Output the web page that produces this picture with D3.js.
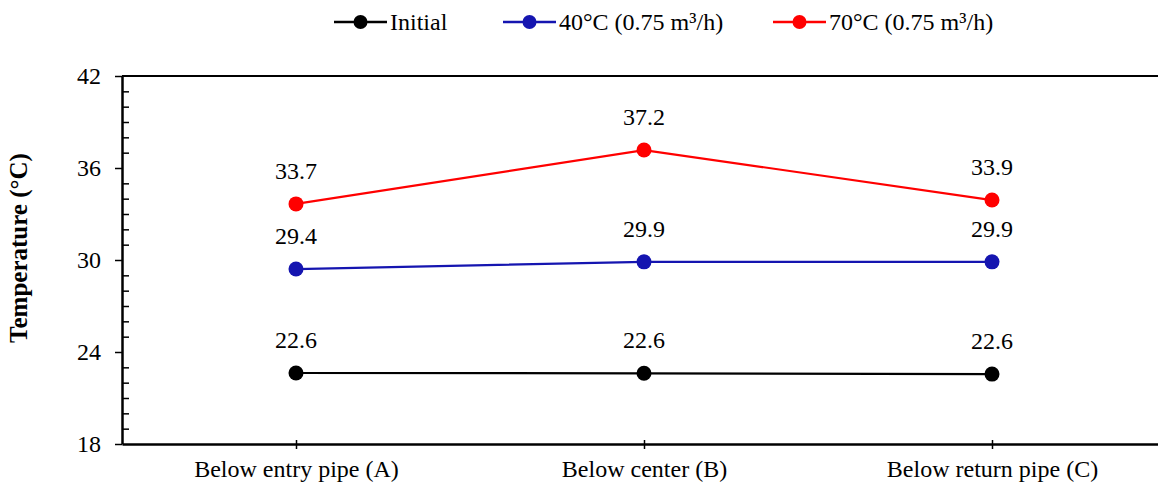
<!DOCTYPE html>
<html>
<head>
<meta charset="utf-8">
<script src="https://cdn.jsdelivr.net/npm/d3@7"></script>
<style>
  body { margin: 0; background: #fff; }
</style>
</head>
<body>
<div id="chart"></div>
<script>
// chart data
const categories = ["Below entry pipe (A)", "Below center (B)", "Below return pipe (C)"];
const seriesNames = ["Initial", "40\u00B0C (0.75 m\u00B3/h)", "70\u00B0C (0.75 m\u00B3/h)"];
const seriesColors = ["#000000", "#1515b0", "#ff0000"];
const initialValues = [22.63, 22.61, 22.56];
const warmValues = [29.41, 29.88, 29.88];
const hotValues = [33.66, 37.17, 33.91];
const yTicks = [18, 24, 30, 36, 42];

const FONT = "Liberation Serif, Times New Roman, Times, serif";

const series = [initialValues, warmValues, hotValues].map((vals, i) => ({
  name: seriesNames[i],
  color: seriesColors[i],
  values: vals.map((v, j) => ({ cat: categories[j], v: v }))
}));

const W = 1158, H = 488;
const margin = { top: 76, right: -8, bottom: 44, left: 122 };
const width = W - margin.left - margin.right;
const height = H - margin.top - margin.bottom;

const svg = d3.select("#chart").append("svg")
  .attr("width", W).attr("height", H)
  .attr("font-family", FONT);

const g = svg.append("g")
  .attr("transform", `translate(${margin.left},${margin.top})`);

const x = d3.scalePoint().domain(categories).range([0, width]).padding(0.5);
const y = d3.scaleLinear().domain([18, 42]).range([height, 0]);

// top border
g.append("line")
  .attr("x1", 0).attr("x2", width)
  .attr("y1", 0).attr("y2", 0)
  .attr("stroke", "#000").attr("stroke-width", 2);

// minor ticks (inside)
const minor = d3.range(18, 43, 1).filter(d => yTicks.indexOf(d) < 0);
g.append("g")
  .call(d3.axisRight(y).tickValues(minor).tickSize(7).tickFormat(""))
  .call(a => a.select(".domain").remove())
  .selectAll("line").attr("stroke-width", 1.5);

// y axis
const yAxis = g.append("g")
  .call(d3.axisLeft(y).tickValues(yTicks).tickSize(7).tickSizeOuter(0).tickPadding(14));
yAxis.attr("font-family", FONT).attr("font-size", 24);
yAxis.select(".domain").attr("stroke-width", 2.5);
yAxis.selectAll(".tick line").attr("stroke-width", 1.5);
yAxis.selectAll(".tick text").attr("fill", "#000");

// x axis
const xAxis = g.append("g")
  .attr("transform", `translate(0,${height})`)
  .call(d3.axisBottom(x).tickSize(5).tickSizeOuter(0).tickPadding(11));
xAxis.attr("font-family", FONT).attr("font-size", 24);
xAxis.select(".domain").attr("stroke-width", 2.5);
xAxis.selectAll(".tick line").attr("stroke-width", 1.5).attr("y1", -4);
xAxis.selectAll(".tick text").attr("fill", "#000");

// y title
svg.append("text")
  .attr("transform", `translate(27,248) rotate(-90)`)
  .attr("text-anchor", "middle")
  .attr("font-size", 25).attr("font-weight", "bold")
  .text("Temperature (\u00B0C)");

// lines
const line = d3.line().x(d => x(d.cat)).y(d => y(d.v));
const sg = g.selectAll(".series").data(series).join("g").attr("class", "series");
sg.append("path")
  .attr("d", d => line(d.values))
  .attr("fill", "none")
  .attr("stroke", d => d.color)
  .attr("stroke-width", 2.2);
sg.selectAll("circle").data(d => d.values.map(v => ({ ...v, color: d.color })))
  .join("circle")
  .attr("cx", d => x(d.cat)).attr("cy", d => y(d.v))
  .attr("r", 7.5).attr("fill", d => d.color);
sg.selectAll(".lbl").data(d => d.values)
  .join("text").attr("class", "lbl")
  .attr("x", d => x(d.cat)).attr("y", d => y(d.v) - 25)
  .attr("text-anchor", "middle")
  .attr("font-size", 24)
  .text(d => d.v.toFixed(1));

// legend
const legendX = [334, 503, 773];
const lg = svg.selectAll(".legend").data(series).join("g")
  .attr("class", "legend")
  .attr("transform", (d, i) => `translate(${legendX[i]},22)`);
lg.append("line").attr("x1", 0).attr("x2", 53)
  .attr("stroke", d => d.color).attr("stroke-width", 2.5);
lg.append("circle").attr("cx", 26.5).attr("r", 7).attr("fill", d => d.color);
lg.append("text").attr("x", 56).attr("y", 8)
  .attr("font-size", 24).text(d => d.name);
</script>
</body>
</html>
